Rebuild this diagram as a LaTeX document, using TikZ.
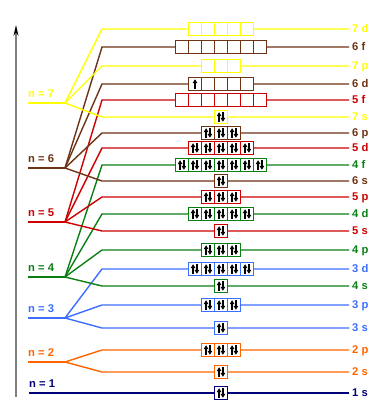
\documentclass[tikz,border=0pt]{standalone}
\usepackage{fontspec}
\setmainfont{Liberation Sans}
\usetikzlibrary{arrows.meta}
\definecolor{c7}{RGB}{255,255,0}
\definecolor{c6}{RGB}{110,50,20}
\definecolor{c5}{RGB}{204,0,0}
\definecolor{c4}{RGB}{10,128,20}
\definecolor{c3}{RGB}{60,110,255}
\definecolor{c2}{RGB}{255,100,0}
\definecolor{c1}{RGB}{0,0,120}
\begin{document}
\begin{tikzpicture}[x=1pt,y=-1pt,
  lvl/.style={line width=1.4pt},
  lab/.style={font=\fontsize{11.2}{13}\selectfont\bfseries, inner sep=0pt, anchor=base west},
  box/.style={line width=1.5pt, fill=white, inner sep=0pt, outer sep=0pt, minimum height=13pt},
  el/.style={line width=1.6pt, -{Triangle[length=4pt,width=4.6pt]}},
  div/.style={line width=1.5pt}]
\useasboundingbox (0,0) rectangle (386,412);
% axis
\coordinate (ax0) at (16,397);
\coordinate (ax1) at (16,25);
\draw[gray, line width=1.3pt, -{Stealth[length=11pt,width=5pt,black]}] (ax0) -- (ax1);
% principal levels
\foreach \n/\y in {7/103,6/168,5/222,4/277,3/318,2/362} {
  \coordinate (s\n) at (28,\y);
  \coordinate (f\n) at (65,\y);
  \draw[lvl,c\n] (s\n) -- (f\n);
  \node[lab,text=c\n] (n\n) at (28,\y-6) {n = \n};
}
\coordinate (s1) at (29,393);
\coordinate (f1) at (65,393);
\draw[lvl,c1] (s1) -- (f1);
\node[lab,text=c1] (n1) at (29,387) {n = 1};
% sublevels
\foreach \n/\l/\y in {7/d/29,6/f/47,7/p/66,6/d/84,5/f/100,7/s/117,6/p/133,5/d/148,4/f/165,6/s/181,5/p/197,4/d/214,5/s/231,4/p/250,3/d/269,4/s/286,3/p/305,3/s/328,2/p/350,2/s/372,1/s/393} {
  \coordinate (k\n\l) at (102,\y);
  \coordinate (e\n\l) at (349,\y);
  \draw[lvl,c\n] (f\n) -- (k\n\l) -- (e\n\l);
  \node[lab,text=c\n] (l\n\l) at (352,\y+3.9) {\n\ \l};
}
% boxes and electrons
\foreach \n/\l/\y/\k/\e in {7/d/29/5/0,6/f/47/7/0,7/p/66/3/0,6/d/84/5/1,5/f/100/7/0,7/s/117/1/2,6/p/133/3/6,5/d/148/5/10,4/f/165/7/14,6/s/181/1/2,5/p/197/3/6,4/d/214/5/10,5/s/231/1/2,4/p/250/3/6,3/d/269/5/10,4/s/286/1/2,3/p/305/3/6,3/s/328/1/2,2/p/350/3/6,2/s/372/1/2,1/s/393/1/2} {
  \pgfmathsetmacro\w{13*\k}
  \pgfmathsetmacro\xo{221-6.5*\k}
  \node[box,draw=c\n,minimum width=\w pt] (b\n\l) at (221,\y) {};
  \ifnum\k>1
    \pgfmathtruncatemacro\km{\k-1}
    \foreach \i in {1,...,\km} {
      \draw[div,c\n] (\xo+13*\i,\y-6.5) -- (\xo+13*\i,\y+6.5);
    }
  \fi
  \ifnum\e=1
    \draw[el] (\xo+6.5,\y+4.8) -- (\xo+6.5,\y-4.8);
  \fi
  \ifnum\e>1
    \foreach \i in {1,...,\k} {
      \draw[el] (\xo+13*\i-8.4,\y+4.8) -- (\xo+13*\i-8.4,\y-4.8);
      \draw[el] (\xo+13*\i-4.6,\y-4.8) -- (\xo+13*\i-4.6,\y+4.8);
    }
  \fi
}
\end{tikzpicture}
\end{document}
